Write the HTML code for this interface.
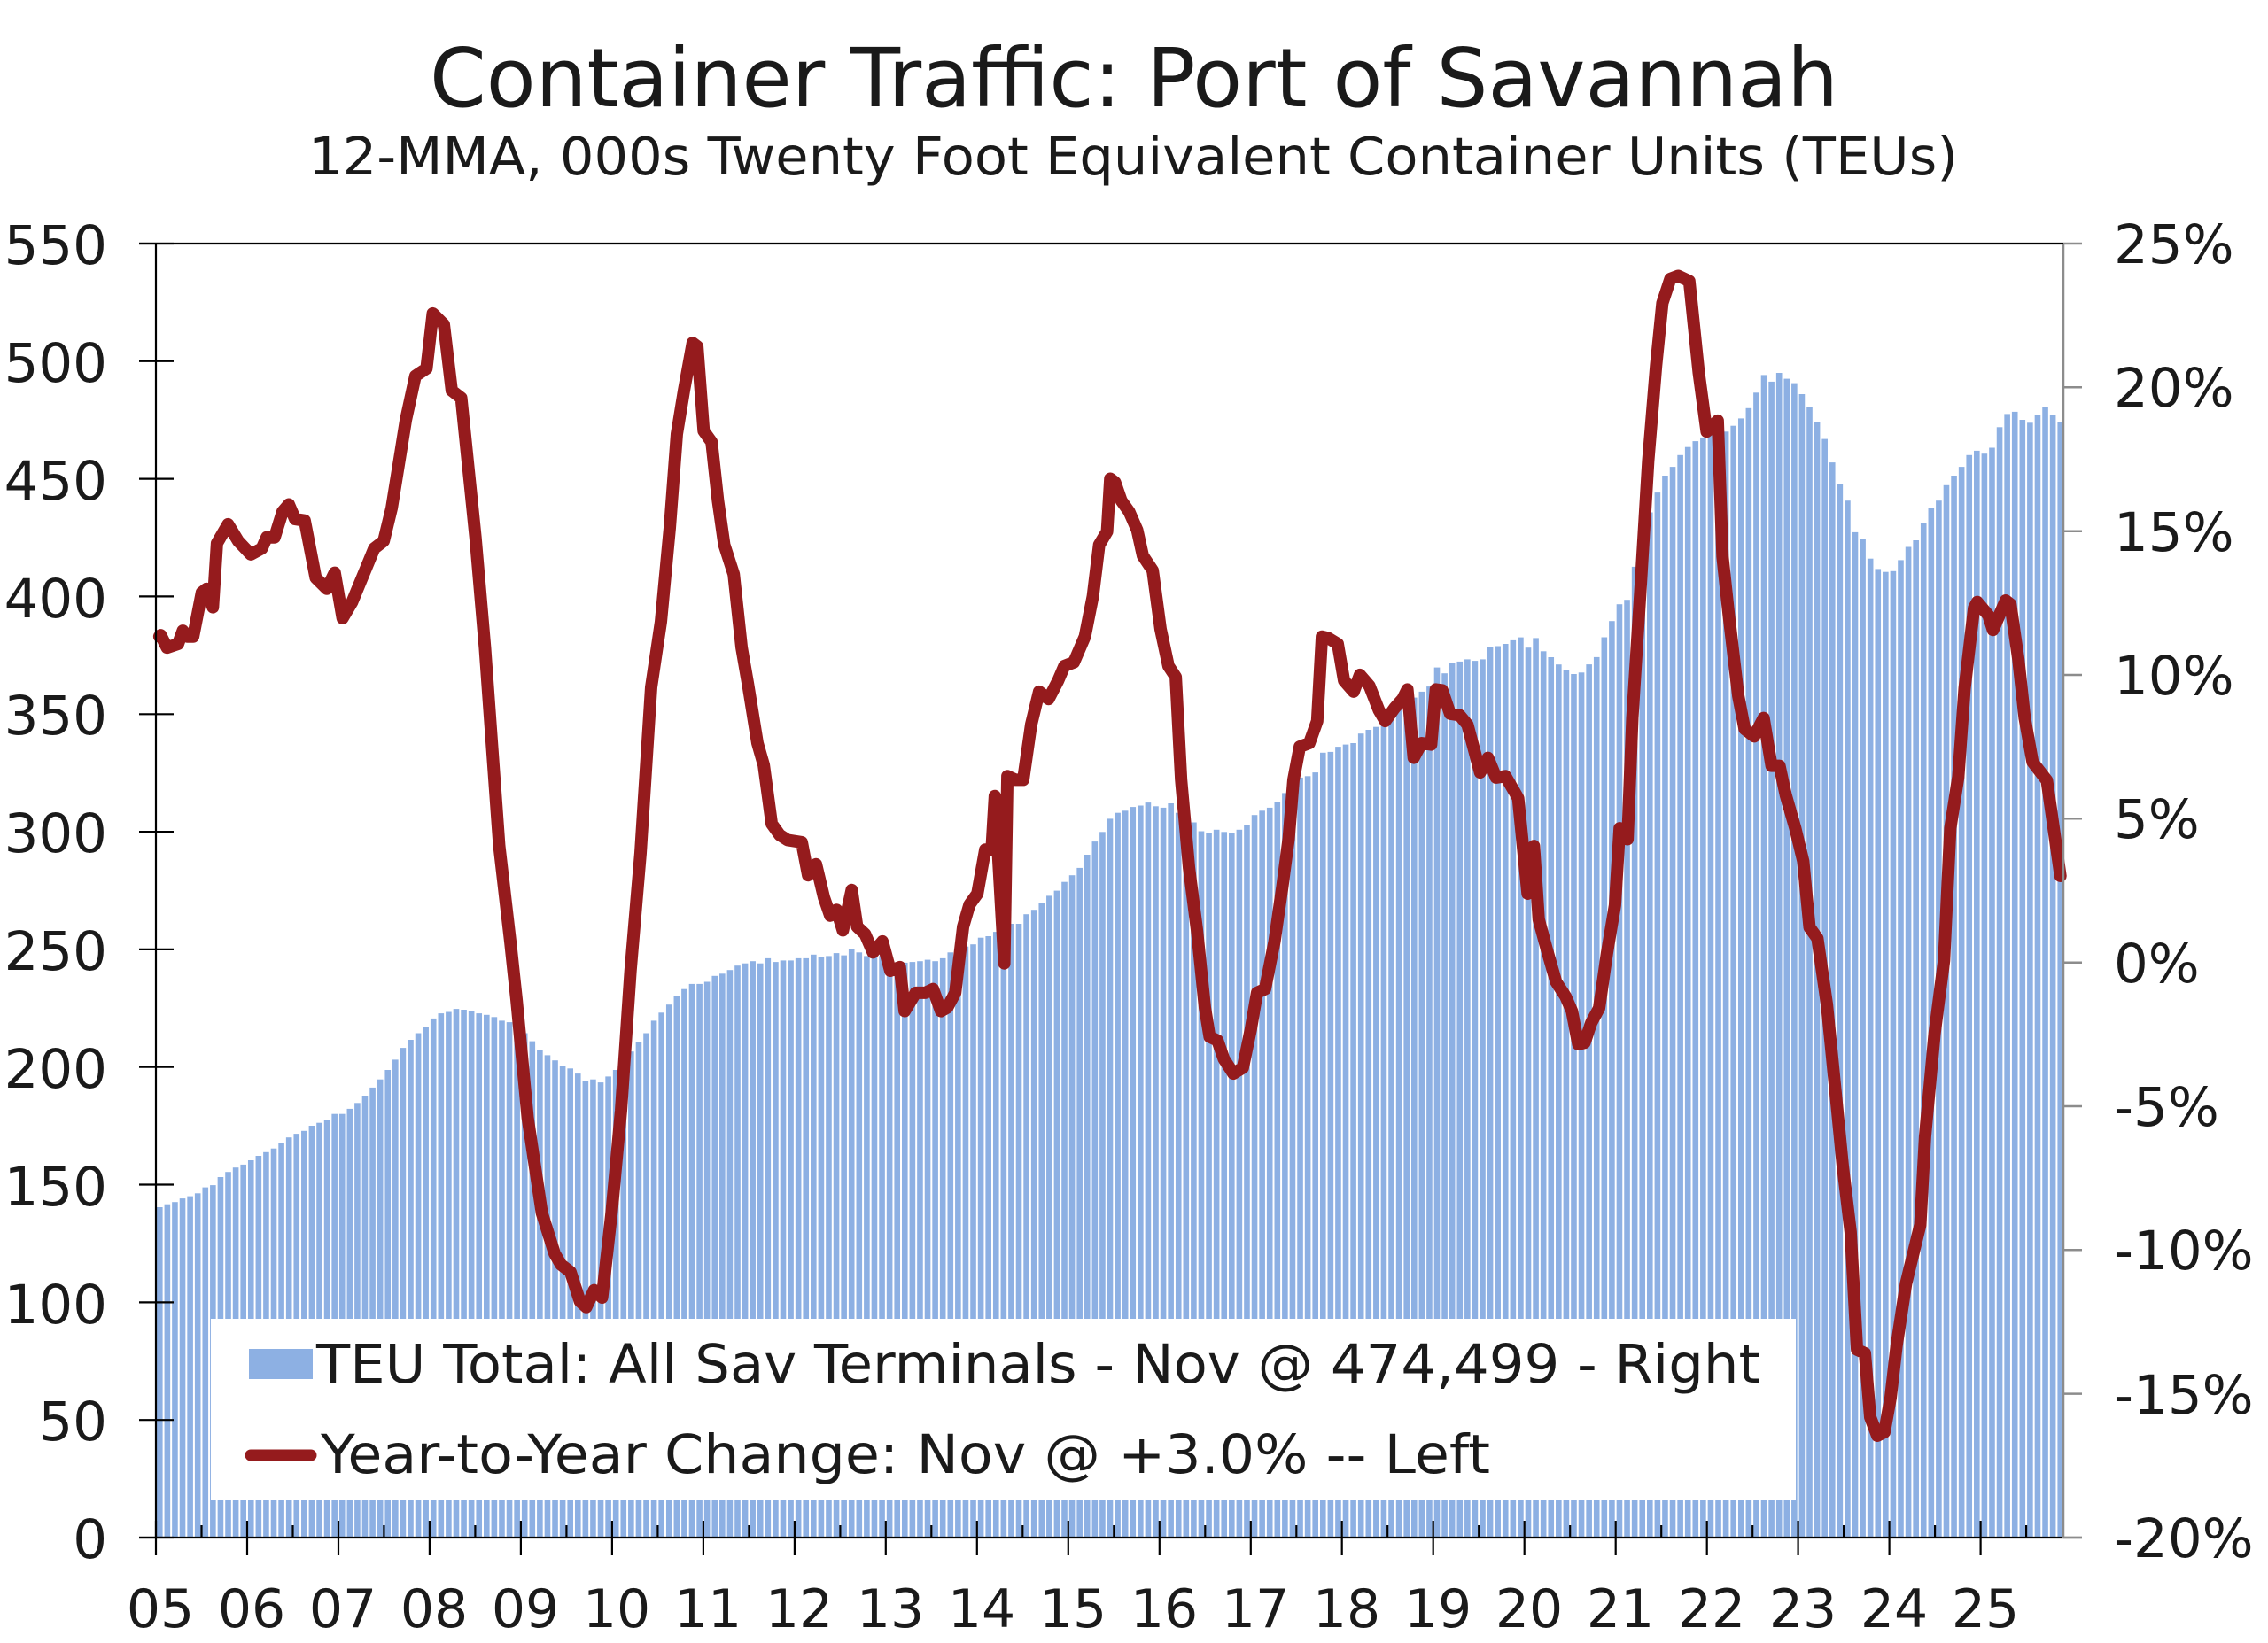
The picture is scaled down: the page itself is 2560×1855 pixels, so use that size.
<!DOCTYPE html>
<html>
<head>
<meta charset="utf-8">
<style>
html,body{margin:0;padding:0;background:#fff;}
body{width:2560px;height:1855px;overflow:hidden;}
svg{display:block;}
text{font-family:"DejaVu Sans","Liberation Sans",sans-serif;fill:#1a1a1a;}
</style>
</head>
<body>
<svg width="2560" height="1855" viewBox="0 0 2560 1855">
<rect x="0" y="0" width="2560" height="1855" fill="#fff"/>

<!-- Title -->
<text x="1280" y="120" font-size="92" text-anchor="middle" textLength="1590" lengthAdjust="spacingAndGlyphs">Container Traffic: Port of Savannah</text>
<text x="1279" y="197" font-size="59" text-anchor="middle" textLength="1862" lengthAdjust="spacingAndGlyphs">12-MMA, 000s Twenty Foot Equivalent Container Units (TEUs)</text>

<!-- bars -->
<g id="bars" fill="#8db0e3"></g>
<!-- line -->
<path id="yoy" d="" fill="none" stroke="#951b1d" stroke-width="14" stroke-linejoin="round" stroke-linecap="round"/>

<!-- legend -->
<rect x="238" y="1489" width="1789" height="205" fill="#fff"/>
<rect x="281" y="1523" width="72" height="34" fill="#8db0e3"/>
<text x="357" y="1561" font-size="61" textLength="1630" lengthAdjust="spacingAndGlyphs">TEU Total: All Sav Terminals - Nov @ 474,499 - Right</text>
<line x1="283" y1="1643" x2="351" y2="1643" stroke="#951b1d" stroke-width="13" stroke-linecap="round"/>
<text x="362" y="1663" font-size="61" textLength="1320" lengthAdjust="spacingAndGlyphs">Year-to-Year Change: Nov @ +3.0% -- Left</text>

<!-- axes -->
<g id="axes" stroke="#000" stroke-width="2.2">
<line x1="157" y1="275" x2="2329" y2="275"/>
<line x1="176" y1="275" x2="176" y2="1736"/>
<line x1="157" y1="1736" x2="2329" y2="1736"/>
</g>
<g stroke="#8c8c8c" stroke-width="2.5">
<line x1="2329" y1="275" x2="2329" y2="1736"/>
<line x1="2329" y1="1736" x2="2350" y2="1736"/>
</g>
<g id="ticks"></g>

<!-- left labels -->
<g font-size="61" text-anchor="end">
<text x="121" y="298">550</text>
<text x="121" y="431">500</text>
<text x="121" y="564">450</text>
<text x="121" y="697">400</text>
<text x="121" y="829">350</text>
<text x="121" y="962">300</text>
<text x="121" y="1095">250</text>
<text x="121" y="1228">200</text>
<text x="121" y="1361">150</text>
<text x="121" y="1494">100</text>
<text x="121" y="1626">50</text>
<text x="121" y="1759">0</text>
</g>
<!-- right labels -->
<g font-size="61" text-anchor="start">
<text x="2386" y="297">25%</text>
<text x="2386" y="459">20%</text>
<text x="2386" y="622">15%</text>
<text x="2386" y="784">10%</text>
<text x="2386" y="946">5%</text>
<text x="2386" y="1109">0%</text>
<text x="2386" y="1271">-5%</text>
<text x="2386" y="1433">-10%</text>
<text x="2386" y="1596">-15%</text>
<text x="2386" y="1758">-20%</text>
</g>
<!-- bottom labels -->
<g font-size="60" text-anchor="middle">
<text x="181" y="1837">05</text>
<text x="284" y="1837">06</text>
<text x="387" y="1837">07</text>
<text x="490" y="1837">08</text>
<text x="593" y="1837">09</text>
<text x="696" y="1837">10</text>
<text x="799" y="1837">11</text>
<text x="902" y="1837">12</text>
<text x="1005" y="1837">13</text>
<text x="1108" y="1837">14</text>
<text x="1211" y="1837">15</text>
<text x="1314" y="1837">16</text>
<text x="1417" y="1837">17</text>
<text x="1520" y="1837">18</text>
<text x="1623" y="1837">19</text>
<text x="1726" y="1837">20</text>
<text x="1829" y="1837">21</text>
<text x="1932" y="1837">22</text>
<text x="2035" y="1837">23</text>
<text x="2138" y="1837">24</text>
<text x="2241" y="1837">25</text>
</g>
</svg>
<script>
(function(){
var B6=[1282,1278,1275,1270,1267,1263,1255,1252,1241,1234,1228,1224,1218,1212,1207,1202,1194,1187,1182,1178,1171,1167,1163,1155,1155,1148,1140,1130,1119,1108,1095,1081,1065,1054,1045,1037,1025,1018,1016,1012,1013,1015,1018,1020,1023,1028,1030,1035,1045,1056,1068,1075,1082,1090,1093,1100,1110,1108,1112,1104,1095,1083,1070,1057,1045];
var B7=[1028,1017,1006,995,985,978,978,975,967,964,959,953,950,947,950,943,948,946,946,943,943,938,941,940,936,939,930,935,940,940,940,950,950,949,948,947,945,947,943,935,930,927,924,915,913,907,900,896,896,883,877,868,858,851,839,830,820,802,784,771,753,745,742,737,735];
var B8=[731,736,738,732,745,750,758,770,772,768,771,773,768,761,748,742,738,730,718,705,697,695,690,663,662,655,652,650,637,632,628,626,610,603,590,588,580,573,547,555,541,539,536,538,536,519,518,515,510,506,520,507,525,533,543,550,556];
var B9=[578,567,557,530,508,485,479,434,400,360,333,310,298,282,271,263,258,255,250,250,242,232,218,197,173,182,170,178,184,199,216,237,260,292,322,344,387,396,423,437,441,440,425,407,398,374,354,344,323,310,298,282,276,280,272,244,226,223,234,238,227,216,227,237];
var tops=[],i;
B6.forEach(function(d){tops.push(300+d/1.206);});
B7.forEach(function(d){tops.push(300+d/1.206);});
B8.forEach(function(d){tops.push(300+d/1.206);});
B9.forEach(function(d){tops.push(280+d/1.206);});
var w=2154/251,bw=6.6,s='';
for(i=0;i<tops.length;i++){
  var x=176+i*w+(w-bw)/2;
  s+='<rect x="'+x.toFixed(2)+'" y="'+tops[i].toFixed(1)+'" width="'+bw+'" height="'+(1736-tops[i]).toFixed(1)+'"/>';
}
document.getElementById('bars').innerHTML=s;

var pts=[];
function add(arr,ox,oy,sx,sy){arr.forEach(function(p){pts.push([ox+p[0]/sx,oy+p[1]/sy]);});}
function addo(arr){arr.forEach(function(p){pts.push(p);});}
add([[11,505],[15,503],[35,520],[70,515],[85,497],[100,505],[118,505],[145,445],[160,440],[180,465],[193,378],[228,352],[260,375],[300,393],[335,385],[350,370],[375,370],[400,335],[420,325],[440,345],[470,347],[505,425],[540,440],[565,418],[590,480],[620,458],[690,385],[720,375],[745,330],[775,250],[790,210],[820,150],[855,140],[875,65],[910,80],[935,170],[965,180],[1010,370],[1040,520],[1085,790],[1120,920],[1140,1000],[1175,1160],[1220,1290],[1260,1345],[1280,1360],[1310,1370],[1340,1410],[1360,1418],[1385,1395],[1410,1405],[1440,1290],[1470,1150],[1500,960]],176,300,2.8,1.206);
addo([[723,963],[735,776],[746,702],[756,596],[764,490],[772,441]]);
add([[145,105],[160,110],[180,225],[205,240],[225,320],[245,380],[275,420],[300,520],[320,570],[350,650],[370,680],[395,760],[420,775],[445,782],[490,785],[510,830],[535,815],[560,860],[580,885],[600,877],[620,905],[648,850],[665,900],[690,910],[715,935],[745,920],[770,960],[800,955],[815,1015],[850,990],[880,990],[905,985],[930,1015],[950,1010],[975,990],[1000,900],[1020,870],[1045,855],[1070,795],[1090,795],[1100,722],[1130,950],[1140,695],[1165,700],[1190,700],[1215,625],[1240,580],[1270,590],[1300,565],[1320,545],[1350,540],[1385,505],[1410,450],[1430,380],[1455,362],[1465,290],[1480,295],[1500,320],[1525,335],[1550,360],[1568,395]],730,300,2.8,1.206);
add([[45,415],[70,495],[95,545],[118,560],[135,700],[160,820],[185,905],[210,1010],[225,1050],[250,1055],[270,1080],[300,1100],[330,1092],[355,1040],[375,990],[400,985],[430,920],[455,845],[475,780],[490,700],[510,655],[540,650],[565,620],[580,505],[600,507],[630,515],[650,565],[680,580],[700,557],[730,572],[760,605],[780,620],[810,602],[835,590],[850,577],[870,670],[895,650],[925,652],[940,577],[960,578],[985,610],[1015,612],[1040,625],[1080,690],[1105,670],[1130,697],[1160,695],[1200,725],[1230,855],[1250,790],[1265,890],[1290,930],[1320,975],[1350,995],[1370,1015],[1390,1060],[1410,1058]],1285,300,2.8,1.206);
add([[45,1055],[70,1035],[95,960],[120,895],[135,790],[160,805],[175,640],[200,470],[225,290],[250,160],[270,75],[295,42],[320,38],[355,45],[385,170],[410,250],[445,235],[460,420],[480,500],[510,610],[530,655],[560,665],[590,640],[615,705],[640,705],[660,745],[690,790],[715,835],[735,925],[760,940],[790,1030],[815,1140],[840,1250],[865,1340],[885,1500],[910,1505]],1780,280,2.8,1.206);
addo([[2111,1600],[2119,1621],[2127,1617],[2134,1578]]);
add([[1010,1495],[1040,1410],[1085,1330],[1100,1210],[1130,1070],[1160,970],[1180,790],[1205,720],[1225,600],[1255,490],[1265,482],[1300,500],[1315,520],[1355,480],[1370,485],[1395,560],[1415,640],[1440,700],[1485,725],[1500,770]],1780,280,2.8,1.206);
addo([[2325.7,989]]);
var d='M'+pts.map(function(p){return p[0].toFixed(1)+' '+p[1].toFixed(1);}).join(' L');
document.getElementById('yoy').setAttribute('d',d);

var t='';
for(i=0;i<=11;i++){var y=(1736-i*132.82).toFixed(1);t+='<line x1="157" y1="'+y+'" x2="196" y2="'+y+'" stroke="#000" stroke-width="2.2"/>';}
for(i=1;i<=9;i++){var y2=(275+i*162.33).toFixed(1);t+='<line x1="2329" y1="'+y2+'" x2="2350" y2="'+y2+'" stroke="#8c8c8c" stroke-width="2.5"/>';}
t+='<line x1="2329" y1="275" x2="2350" y2="275" stroke="#8c8c8c" stroke-width="2.5"/>';
for(i=0;i<=20;i++){var xx=(176+i*102.98).toFixed(1);t+='<line x1="'+xx+'" y1="1717" x2="'+xx+'" y2="1756" stroke="#000" stroke-width="2.2"/>';
 var xm=(176+(i+0.5)*102.98);if(xm<2329){t+='<line x1="'+xm.toFixed(1)+'" y1="1722" x2="'+xm.toFixed(1)+'" y2="1736" stroke="#000" stroke-width="2.2"/>';}}
document.getElementById('ticks').innerHTML=t;
})();
</script>
</body>
</html>
